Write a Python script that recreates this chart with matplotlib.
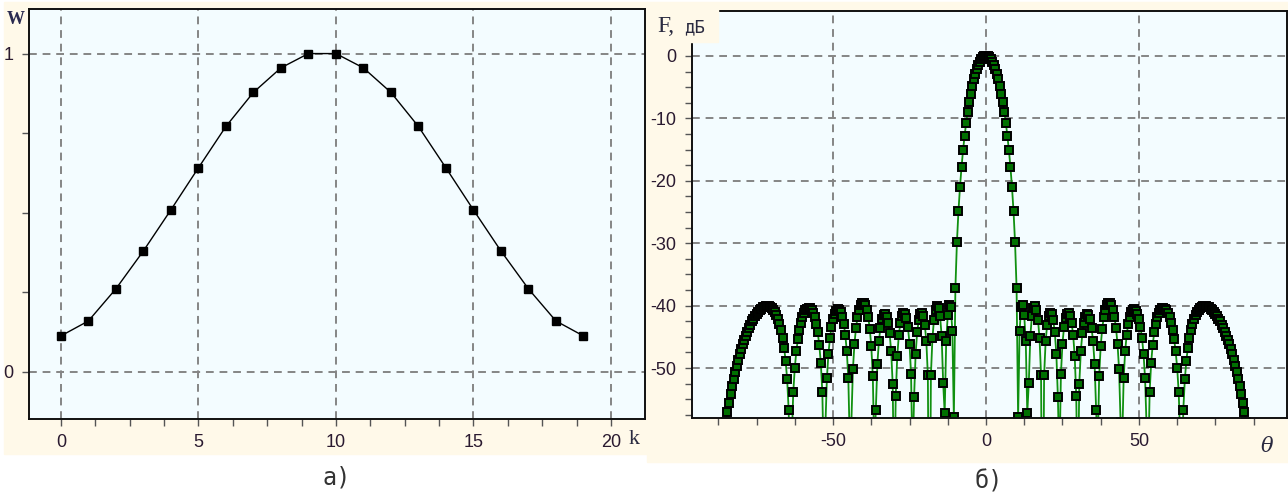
import numpy as np
import matplotlib
matplotlib.use("Agg")
import matplotlib.pyplot as plt
from matplotlib.patches import Rectangle
from matplotlib.ticker import MultipleLocator

# amplitude weights of the 20-element array (symmetric taper)
k = np.arange(20)
w_half = [0.113, 0.160, 0.261, 0.380, 0.509, 0.641, 0.771, 0.878, 0.955, 1.0]
W = np.array(w_half + w_half[::-1])

# observation angles, degrees
theta = np.arange(-90.0, 90.01, 0.5)

# array factor for half-wave spacing, in dB
psi = np.pi * np.sin(np.radians(theta))
AF = np.abs(np.exp(1j * np.outer(psi, k)) @ W)
F_dB = 20 * np.log10(AF / AF.max() + 1e-12)

plt.rcParams['axes.unicode_minus'] = False
plt.rcParams['font.family'] = ['Liberation Sans', 'DejaVu Sans']

W_PX, H_PX = 1288, 496
fig = plt.figure(figsize=(W_PX / 100, H_PX / 100), dpi=100, facecolor='white')

cream = '#fff9e9'
fig.patches.append(Rectangle((4 / W_PX, 1 - 454 / H_PX), 644 / W_PX, 452 / H_PX,
                             transform=fig.transFigure, color=cream, zorder=-10))
fig.patches.append(Rectangle((647 / W_PX, 1 - 462 / H_PX), 641 / W_PX, 460 / H_PX,
                             transform=fig.transFigure, color=cream, zorder=-10))


def box(l, t, r, b):
    return [l / W_PX, 1 - b / H_PX, (r - l) / W_PX, (b - t) / H_PX]


def style(ax):
    ax.set_facecolor('#f3fcff')
    for s in ax.spines.values():
        s.set_linewidth(1.4)
        s.set_color('#101010')
    ax.grid(True, which='major', color='#858585', linestyle=(0, (4, 3)), linewidth=1.4)
    ax.set_axisbelow(True)
    ax.tick_params(which='both', direction='out', color='#555555', width=1)
    ax.tick_params(which='major', length=5, labelsize=13, labelcolor='#2a1a30', pad=6)
    ax.tick_params(which='minor', length=5)


# --- left: weights ---
ax1 = fig.add_axes(box(29, 9, 645, 419))
style(ax1)
ax1.plot(k, W, color='black', linewidth=1, marker='s', markersize=5.5,
         markerfacecolor='black', markeredgecolor='black')
ax1.set_xlim(-1.16, 21.24)
ax1.set_ylim(-0.148, 1.14)
ax1.set_xticks([0, 5, 10, 15, 20])
ax1.set_yticks([0, 1])
ax1.xaxis.set_minor_locator(MultipleLocator(1.25))
ax1.yaxis.set_minor_locator(MultipleLocator(0.25))
fig.text(16 / W_PX, 1 - 19 / H_PX, 'W', family='Liberation Serif', fontweight='bold',
         fontsize=13, color='#2a2a50', ha='center', va='center')
fig.text(634 / W_PX, 1 - 440 / H_PX, 'k', family='Liberation Serif', fontsize=16,
         color='#2a2a40', ha='center', va='center')
fig.text(337 / W_PX, 1 - 478 / H_PX, 'а)', family='DejaVu Sans Mono', fontsize=17,
         color='#333333', ha='center', va='center')

# --- right: radiation pattern ---
ax2 = fig.add_axes(box(692, 11, 1287, 418))
style(ax2)
ax2.plot(theta, F_dB, color='#109010', linewidth=1.3, marker='s', markersize=6.2,
         markerfacecolor='#007000', markeredgecolor='black', markeredgewidth=1.4)
ax2.set_xlim(-96.1, 98.4)
ax2.set_ylim(-58, 7.2)
ax2.set_xticks([-50, 0, 50])
ax2.set_yticks([0, -10, -20, -30, -40, -50])
ax2.xaxis.set_minor_locator(MultipleLocator(12.5))
ax2.yaxis.set_minor_locator(MultipleLocator(2.5))

# axis name sits on a cream patch over the corner of the frame
fig.patches.append(Rectangle((652 / W_PX, 1 - 42 / H_PX), 66 / W_PX, 38 / H_PX,
                             transform=fig.transFigure, color=cream, zorder=5))
fig.text(657 / W_PX, 1 - 32 / H_PX, 'F,', family='Liberation Serif', fontsize=17,
         color='#2a2a40', ha='left', va='baseline', zorder=6)
fig.text(684 / W_PX, 1 - 32 / H_PX, 'дБ', family='DejaVu Sans Mono', fontsize=12.5,
         color='#2a2a40', ha='left', va='baseline', zorder=6)
fig.text(1267 / W_PX, 1 - 446 / H_PX, 'θ', family='DejaVu Serif', style='italic',
         fontsize=15, color='#2a2a40', ha='center', va='center')
fig.text(989 / W_PX, 1 - 481 / H_PX, 'б)', family='DejaVu Sans Mono', fontsize=17,
         color='#333333', ha='center', va='center')

fig.savefig('out.png', dpi=100, facecolor='white')
